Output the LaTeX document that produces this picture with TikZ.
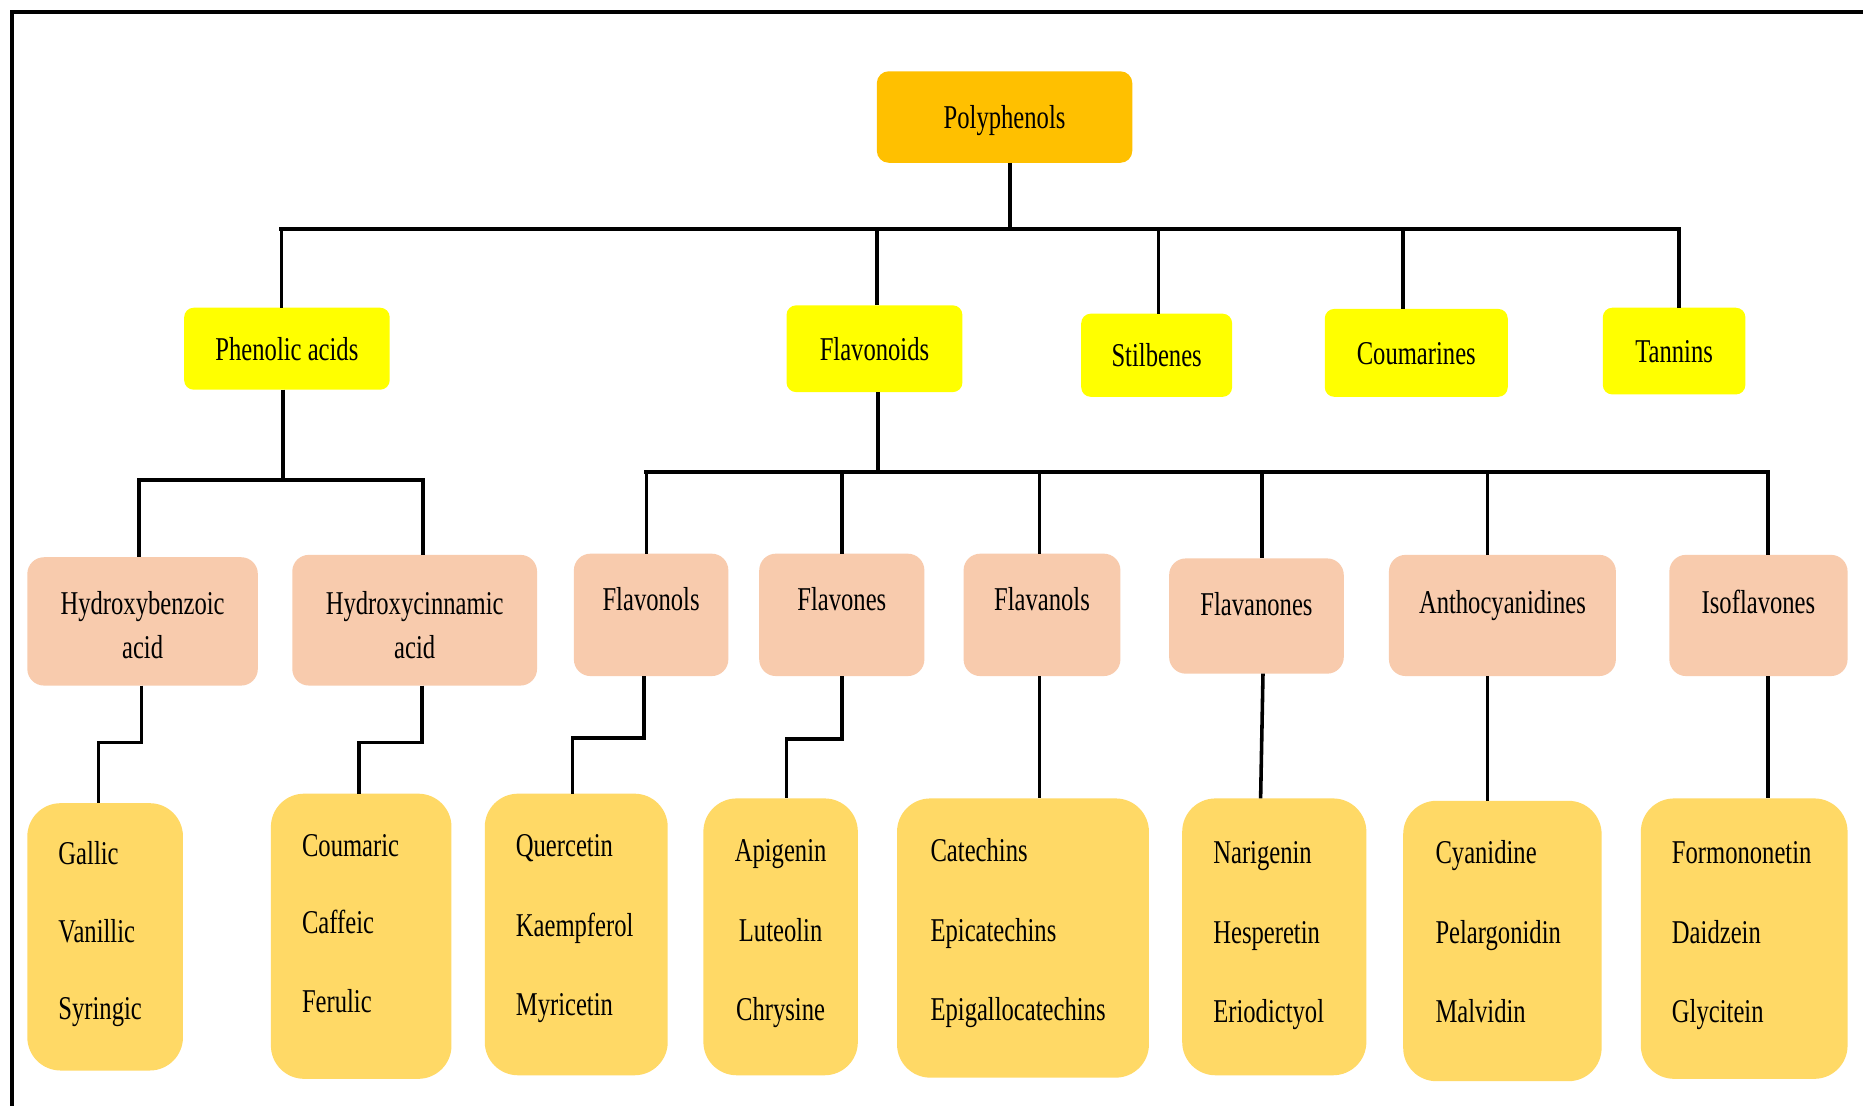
\documentclass[tikz,border=0pt]{standalone}
\usepackage{fontspec}
\setmainfont{Liberation Serif}[FakeStretch=0.74]
\usetikzlibrary{calc}
\definecolor{cPoly}{HTML}{FFC000}
\definecolor{cYel}{HTML}{FFFF00}
\definecolor{cSal}{HTML}{F8CBAD}
\definecolor{cGold}{HTML}{FFD966}
\tikzset{
  boxbase/.style={inner sep=0pt, outer sep=0pt, draw=none, font=\fontsize{28}{33}\selectfont, text height=19pt, text depth=0pt},
  lvlone/.style={boxbase, fill=cPoly, rounded corners=10pt},
  lvltwo/.style={boxbase, fill=cYel, rounded corners=8pt},
  lvlthree/.style={boxbase, fill=cSal, rounded corners=14pt},
  lvlfour/.style={boxbase, fill=cGold, rounded corners=28pt},
  txt/.style={inner sep=0pt, font=\fontsize{28}{33}\selectfont, anchor=base},
  txtl/.style={txt, anchor=base west},
  conn/.style={line width=3pt, line join=miter},
  busline/.style={line width=3.6pt, line cap=rect},
  frameline/.style={line width=3.4pt}
}
\begin{document}
\begin{tikzpicture}[x=1pt,y=-1pt]
\useasboundingbox (0,0) rectangle (1568,931);
\fill[white] (0,0) rectangle (1568,931);
% frame
\coordinate (fTL) at (10,10);
\coordinate (fTR) at (1568,10);
\coordinate (fBL) at (10,931);
\draw[frameline] (fTR) -- (fTL) -- (fBL);

% level 1
\node[lvlone, minimum width=215, minimum height=77] (poly) at (845.5,98.5) {Polyphenols};

% level 2
\node[lvltwo, minimum width=173, minimum height=69] (phen) at (241.5,293.5) {Phenolic acids};
\node[lvltwo, minimum width=148, minimum height=73] (flav) at (736,293.5) {Flavonoids};
\node[lvltwo, minimum width=127, minimum height=70] (stil) at (973.5,299) {Stilbenes};
\node[lvltwo, minimum width=154, minimum height=74] (coum) at (1192,297) {Coumarines};
\node[lvltwo, minimum width=120, minimum height=73] (tann) at (1409,295.5) {Tannins};

% level 3 boxes
\node[lvlthree, minimum width=194, minimum height=108] (hb) at (120,523) {};
\node[lvlthree, minimum width=206, minimum height=110] (hc) at (349,522) {};
\node[lvlthree, minimum width=130, minimum height=103] (fnl) at (548,517.5) {};
\node[lvlthree, minimum width=139, minimum height=103] (fne) at (708.5,517.5) {};
\node[lvlthree, minimum width=132, minimum height=103] (fnla) at (877,517.5) {};
\node[lvlthree, minimum width=147, minimum height=97] (fnn) at (1057.5,518.5) {};
\node[lvlthree, minimum width=191, minimum height=102] (ant) at (1264.5,518) {};
\node[lvlthree, minimum width=150, minimum height=102] (iso) at (1480,518) {};
% level 3 texts
\node[txt] (hbA) at (120,517) {Hydroxybenzoic};
\node[txt] (hbB) at (120,554) {acid};
\node[txt] (hcA) at (349,517) {Hydroxycinnamic};
\node[txt] (hcB) at (349,554) {acid};
\node[txt] (fnlT) at (548,514) {Flavonols};
\node[txt] (fneT) at (708.5,514) {Flavones};
\node[txt] (fnlaT) at (877,514) {Flavanols};
\node[txt] (fnnT) at (1057.5,518) {Flavanones};
\node[txt] (antT) at (1264.5,516) {Anthocyanidines};
\node[txt] (isoT) at (1480,516) {Isoflavones};

% level 4 boxes
\node[lvlfour, minimum width=131, minimum height=225] (bA) at (88.5,788.5) {};
\node[lvlfour, minimum width=152, minimum height=240] (bB) at (304,788) {};
\node[lvlfour, minimum width=154, minimum height=237] (bC) at (485,786.5) {};
\node[lvlfour, minimum width=130, minimum height=233] (bD) at (657,788.5) {};
\node[lvlfour, minimum width=212, minimum height=235] (bE) at (861,789.5) {};
\node[lvlfour, minimum width=155, minimum height=233] (bF) at (1072.5,788.5) {};
\node[lvlfour, minimum width=167, minimum height=236] (bG) at (1264.5,792) {};
\node[lvlfour, minimum width=174, minimum height=236] (bH) at (1468,790) {};
% level 4 texts
\node[txtl] (tA1) at (49,728) {Gallic};
\node[txtl] (tA2) at (49,793) {Vanillic};
\node[txtl] (tA3) at (49,858) {Syringic};
\node[txtl] (tB1) at (254,721) {Coumaric};
\node[txtl] (tB2) at (254,786) {Caffeic};
\node[txtl] (tB3) at (254,852) {Ferulic};
\node[txtl] (tC1) at (434,721) {Quercetin};
\node[txtl] (tC2) at (434,788) {Kaempferol};
\node[txtl] (tC3) at (434,855) {Myricetin};
\node[txt] (tD1) at (657,725) {Apigenin};
\node[txt] (tD2) at (657,792) {Luteolin};
\node[txt] (tD3) at (657,859) {Chrysine};
\node[txtl] (tE1) at (783,725) {Catechins};
\node[txtl] (tE2) at (783,792) {Epicatechins};
\node[txtl] (tE3) at (783,859) {Epigallocatechins};
\node[txtl] (tF1) at (1021,727) {Narigenin};
\node[txtl] (tF2) at (1021,794) {Hesperetin};
\node[txtl] (tF3) at (1021,861) {Eriodictyol};
\node[txtl] (tG1) at (1208,727) {Cyanidine};
\node[txtl] (tG2) at (1208,794) {Pelargonidin};
\node[txtl] (tG3) at (1208,861) {Malvidin};
\node[txtl] (tH1) at (1407,727) {Formononetin};
\node[txtl] (tH2) at (1407,794) {Daidzein};
\node[txtl] (tH3) at (1407,861) {Glycitein};

% ---- connectors level 1 -> 2
\coordinate (busA) at (0,193);
\coordinate (dPoly) at ([xshift=4.5]poly.south);
\coordinate (dPhen) at ([xshift=-4.5]phen.north);
\coordinate (dFlav) at ([xshift=2]flav.north);
\coordinate (dStil) at ([xshift=1.5]stil.north);
\coordinate (dCoum) at ([xshift=-11]coum.north);
\coordinate (dTann) at ([xshift=4]tann.north);
\draw[conn] (dPoly) -- (dPoly |- busA);
\draw[busline] (dPhen |- busA) -- (dTann |- busA);
\foreach \d in {dPhen,dFlav,dStil,dCoum,dTann}{
  \draw[conn] (\d |- busA) -- (\d);
}

% ---- phenolic acids -> level 3
\coordinate (busB) at (0,404);
\coordinate (uPhen) at ([xshift=-3.5]phen.south);
\coordinate (dHb) at ([xshift=-3]hb.north);
\coordinate (dHc) at ([xshift=7]hc.north);
\draw[conn] (uPhen) -- (uPhen |- busB);
\draw[busline] (dHb |- busB) -- (dHc |- busB);
\draw[conn] (dHb |- busB) -- (dHb);
\draw[conn] (dHc |- busB) -- (dHc);

% ---- flavonoids -> level 3
\coordinate (busC) at (0,397);
\coordinate (uFlav) at ([xshift=3]flav.south);
\coordinate (dFnl) at ([xshift=-4]fnl.north);
\coordinate (dFne) at (fne.north);
\coordinate (dFnla) at ([xshift=-2]fnla.north);
\coordinate (dFnn) at ([xshift=4.5]fnn.north);
\coordinate (dAnt) at ([xshift=-12.5]ant.north);
\coordinate (dIso) at ([xshift=8]iso.north);
\draw[conn] (uFlav) -- (uFlav |- busC);
\draw[busline] (dFnl |- busC) -- (dIso |- busC);
\foreach \d in {dFnl,dFne,dFnla,dFnn,dAnt,dIso}{
  \draw[conn] (\d |- busC) -- (\d);
}

% ---- level 3 -> level 4
\draw[conn] ([xshift=-1]hb.south) -- ([xshift=-1]hb.south |- 0,625) -| ([xshift=-5.5]bA.north);
\draw[conn] ([xshift=6]hc.south) -- ([xshift=6]hc.south |- 0,625) -| ([xshift=-2]bB.north);
\draw[conn] ([xshift=-6]fnl.south) -- ([xshift=-6]fnl.south |- 0,621) -| ([xshift=-3]bC.north);
\draw[conn] (fne.south) -- (fne.south |- 0,622) -| ([xshift=5]bD.north);
\draw[conn] ([xshift=-2]fnla.south) -- ([xshift=14]bE.north);
\draw[conn] ([xshift=5.5]fnn.south) -- ([xshift=-11.5]bF.north);
\draw[conn] ([xshift=-12.5]ant.south) -- ([xshift=-12.5]bG.north);
\draw[conn] ([xshift=8]iso.south) -- ([xshift=20]bH.north);
\end{tikzpicture}
\end{document}
